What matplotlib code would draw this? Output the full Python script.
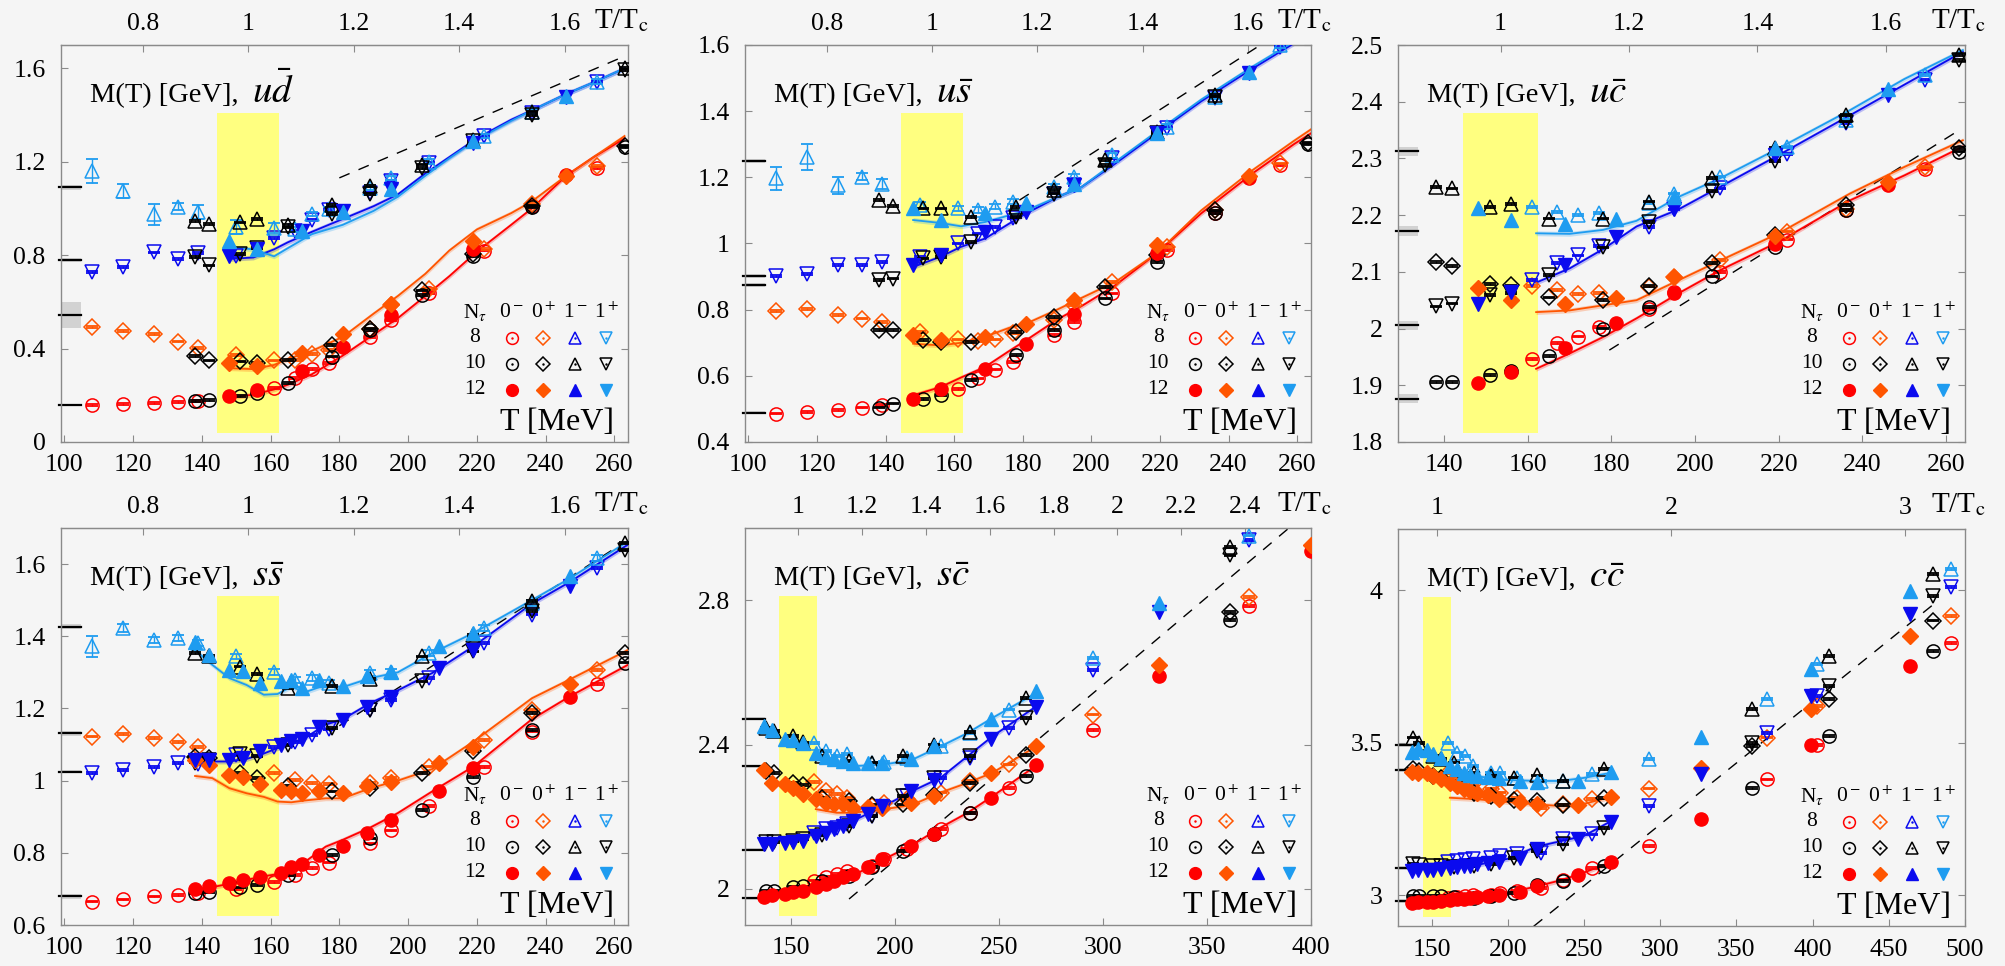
import numpy as np
import matplotlib
matplotlib.use("Agg")
import matplotlib.pyplot as plt

nan = np.nan
TC = 153.5  # MeV, for the top T/Tc axis

# colours: 0-, 0+, 1- (down triangles in data), 1+ (up triangles in data)
C_PS, C_SC, C_VE, C_AX = "#ff0000", "#ff5500", "#0a0aee", "#1e9cf0"

# ---------------- temperatures (MeV) ----------------
T8 = [108, 117, 126, 133, 139, 150, 161, 167, 172, 177, 189, 195, 206, 222, 236, 255]
T10 = [138, 142, 151, 156, 165, 178, 189, 204, 219, 236, 263]
T12 = [148, 156, 169, 181, 195, 219, 246]
SS_T12 = [138, 142, 148, 152, 157, 163, 166, 169, 174, 181, 188, 195, 209, 219, 247]
SC_T8 = [161, 167, 172, 177, 189, 195, 206, 222, 236, 255, 295, 370]
SC_T10 = [138, 142, 151, 156, 165, 178, 189, 204, 219, 236, 263, 361]
SC_T12 = [137, 141, 147, 151, 156, 162, 167, 171, 175, 180, 187, 194, 208, 219, 246, 268, 327, 400]
CC_T8 = [161, 167, 172, 177, 189, 195, 206, 222, 236, 255, 293, 370, 403, 491]
CC_T10 = [138, 142, 151, 156, 165, 178, 189, 204, 219, 236, 263, 360, 411, 479]
CC_T12 = [137, 141, 147, 151, 156, 162, 167, 171, 175, 180, 187, 194, 208, 219, 246, 268, 327, 399, 464]

# ---------------- u dbar ----------------
UD_PS8 = [0.160, 0.164, 0.167, 0.171, 0.175, nan, 0.231, 0.274, 0.312, 0.337, 0.451, 0.522, 0.638, 0.82, 1.01, 1.174]
UD_SC8 = [0.493, 0.475, 0.461, 0.43, 0.401, 0.373, 0.349, 0.352, 0.377, 0.394, 0.486, 0.586, 0.656, 0.827, 1.018, 1.181]
UD_AX8 = [1.16, 1.075, 0.976, 1.007, 0.987, 0.92, 0.916, 0.91, 0.976, 0.997, 1.089, 1.13, 1.2, 1.31, 1.415, 1.543]
UD_VE8 = [0.727, 0.749, 0.812, 0.784, 0.808, 0.798, 0.873, 0.905, 0.95, 0.993, 1.068, 1.117, 1.195, 1.309, 1.408, 1.543]
UD_AX8_ERR = [0.05, 0.03, 0.045, 0.015, 0.03, 0.03, 0.02, 0.01, 0.01, 0.01, 0.01, 0.01, 0.01, 0.01, 0.01, 0.01]
UD_PS10 = [0.174, 0.181, 0.196, 0.21, 0.252, 0.366, 0.479, 0.628, 0.798, 1.007, 1.262]
UD_SC10 = [0.369, 0.349, 0.345, 0.337, 0.352, 0.415, 0.486, 0.649, 0.805, 1.011, 1.266]
UD_VE10 = [0.791, 0.756, 0.805, 0.831, 0.919, 0.976, 1.061, 1.174, 1.288, 1.401, 1.593]
UD_AX10 = [0.947, 0.933, 0.94, 0.954, 0.93, 1.015, 1.096, 1.188, 1.295, 1.415, 1.6]
UD_PS12 = [0.196, 0.221, 0.302, 0.408, 0.543, 0.827, 1.143]
UD_SC12 = [0.34, 0.326, 0.383, 0.462, 0.59, 0.859, 1.14]
UD_VE12 = [0.798, 0.827, 0.905, 0.99, 1.082, 1.28, 1.479]
UD_AX12 = [0.862, 0.827, 0.905, 0.987, 1.082, 1.288, 1.482]
UD_LT = [148, 155, 161, 165, 172, 181, 190, 197, 205, 212, 220, 230, 236, 246, 254, 263]
UD_L_PS = [0.19, 0.203, 0.225, 0.245, 0.29, 0.37, 0.46, 0.53, 0.625, 0.71, 0.815, 0.93, 1.0, 1.14, 1.22, 1.30]
UD_L_SC = [0.316, 0.312, 0.33, 0.355, 0.39, 0.45, 0.55, 0.625, 0.72, 0.82, 0.91, 0.98, 1.03, 1.14, 1.22, 1.31]
UD_L_VE = [0.784, 0.79, 0.825, 0.855, 0.9, 0.955, 1.01, 1.06, 1.15, 1.22, 1.30, 1.38, 1.42, 1.49, 1.54, 1.60]
UD_L_AX = [0.834, 0.825, 0.795, 0.83, 0.89, 0.93, 0.99, 1.05, 1.14, 1.215, 1.295, 1.375, 1.42, 1.49, 1.54, 1.60]
UD_VAC = [0.16, 0.545, 0.78, 1.09]
UD_VAC_ERR = [0.004, 0.055, 0.01, 0.01]
UD_DASH = ([180, 263], [1.131, 1.652])

# ---------------- u sbar ----------------
US_PS8 = [0.486, 0.491, 0.496, 0.504, 0.511, nan, 0.561, 0.592, 0.619, 0.642, 0.723, 0.763, 0.849, 0.98, 1.093, 1.237]
US_SC8 = [0.795, 0.803, 0.783, 0.773, 0.763, 0.733, 0.71, 0.706, 0.71, 0.728, 0.768, 0.813, 0.884, 0.99, 1.1, 1.242]
US_AX8 = [1.197, 1.262, 1.176, 1.202, 1.181, 1.116, 1.106, 1.101, 1.111, 1.126, 1.171, 1.202, 1.267, 1.353, 1.444, 1.60]
US_VE8 = [0.901, 0.907, 0.934, 0.934, 0.945, 0.96, 1.0, 1.03, 1.05, 1.076, 1.151, 1.176, 1.257, 1.348, 1.439, 1.595]
US_AX8_ERR = [0.035, 0.04, 0.025, 0.01, 0.015, 0.01, 0.008, 0.008, 0.008, 0.008, 0.008, 0.008, 0.008, 0.008, 0.008, 0.008]
US_PS10 = [0.504, 0.516, 0.531, 0.541, 0.587, 0.662, 0.738, 0.834, 0.945, 1.093, 1.30]
US_SC10 = [0.738, 0.738, 0.708, 0.703, 0.703, 0.733, 0.778, 0.869, 0.965, 1.1, 1.303]
US_VE10 = [0.889, 0.894, 0.955, 0.96, 1.005, 1.081, 1.151, 1.237, 1.333, 1.444, nan]
US_AX10 = [1.131, 1.113, 1.106, 1.106, 1.081, 1.111, 1.161, 1.252, 1.338, 1.449, nan]
US_PS12 = [0.531, 0.561, 0.622, 0.697, 0.788, 0.97, 1.197]
US_SC12 = [0.723, 0.708, 0.718, 0.758, 0.829, 0.995, 1.205]
US_VE12 = [0.934, 0.965, 1.035, 1.096, 1.176, 1.333, 1.516]
US_AX12 = [1.106, 1.071, 1.091, 1.121, 1.181, 1.333, 1.519]
US_LT = [148, 156, 162, 169, 176, 181, 190, 197, 207, 219, 232, 247, 259, 264]
US_L_PS = [0.541, 0.566, 0.595, 0.627, 0.675, 0.708, 0.77, 0.81, 0.874, 0.97, 1.091, 1.212, 1.30, 1.333]
US_L_SC = [0.697, 0.692, 0.70, 0.718, 0.745, 0.758, 0.80, 0.835, 0.884, 0.97, 1.10, 1.222, 1.31, 1.345]
US_L_VE = [0.929, 0.96, 0.99, 1.015, 1.06, 1.091, 1.14, 1.17, 1.242, 1.333, 1.43, 1.529, 1.605, 1.64]
US_L_AX = [1.071, 1.062, 1.052, 1.065, 1.085, 1.10, 1.14, 1.17, 1.247, 1.338, 1.435, 1.535, 1.61, 1.645]
US_VAC = [0.489, 0.876, 0.902, 1.249]
US_VAC_ERR = [0.004, 0.006, 0.006, 0.006]
US_DASH = ([179, 250], [1.131, 1.605])

# ---------------- u cbar ----------------
UC_PS8 = [nan] * 6 + [1.947, 1.974, 1.986, 2.003, 2.035, 2.065, 2.1, 2.157, 2.209, 2.282]
UC_SC8 = [nan] * 6 + [2.075, 2.068, 2.061, 2.063, 2.074, 2.091, 2.121, 2.171, 2.21, 2.285]
UC_AX8 = [nan] * 6 + [2.215, 2.206, 2.2, 2.204, 2.221, 2.238, 2.268, 2.32, 2.368, 2.447]
UC_VE8 = [nan] * 6 + [2.086, 2.115, 2.129, 2.145, 2.179, 2.21, 2.247, 2.308, 2.362, 2.438]
UC_PS10 = [1.906, 1.906, 1.918, 1.925, 1.951, 2.0, 2.038, 2.092, 2.144, 2.209, 2.312]
UC_SC10 = [2.118, 2.11, 2.079, 2.076, 2.055, 2.05, 2.075, 2.115, 2.165, 2.218, 2.318]
UC_VE10 = [2.039, 2.044, 2.059, 2.063, 2.094, 2.143, 2.188, 2.243, 2.296, 2.365, 2.474]
UC_AX10 = [2.25, 2.247, 2.215, 2.219, 2.194, 2.194, 2.224, 2.265, 2.318, 2.376, 2.482]
UC_PS12 = [1.904, 1.924, 1.965, 2.01, 2.063, 2.15, 2.254]
UC_SC12 = [2.071, 2.05, 2.044, 2.054, 2.091, 2.163, 2.259]
UC_VE12 = [2.043, 2.065, 2.112, 2.162, 2.21, 2.306, 2.412]
UC_AX12 = [2.212, 2.191, 2.185, 2.194, 2.232, 2.318, 2.422]
UC_LT = [162, 170, 178, 186, 196, 206, 220, 237, 250, 264]
UC_L_PS = [1.929, 1.956, 1.985, 2.018, 2.062, 2.103, 2.153, 2.226, 2.27, 2.321]
UC_L_SC = [2.029, 2.032, 2.041, 2.05, 2.085, 2.12, 2.168, 2.238, 2.285, 2.332]
UC_L_VE = [2.081, 2.106, 2.14, 2.18, 2.21, 2.25, 2.306, 2.376, 2.43, 2.488]
UC_L_AX = [2.168, 2.167, 2.174, 2.19, 2.232, 2.265, 2.318, 2.385, 2.44, 2.491]
UC_VAC = [1.876, 2.006, 2.172, 2.313]
UC_VAC_ERR = [0.008, 0.008, 0.008, 0.008]
UC_DASH = ([179.5, 262.5], [1.962, 2.347])

# ---------------- s sbar ----------------
SS_PS8 = [0.665, 0.671, 0.679, 0.683, 0.688, 0.699, 0.72, 0.739, 0.757, 0.773, 0.826, 0.862, 0.93, 1.037, 1.136, 1.268]
SS_SC8 = [1.122, 1.13, 1.118, 1.108, 1.094, nan, 1.022, 1.002, 0.993, 0.991, 0.993, 1.007, 1.039, 1.113, 1.196, 1.307]
SS_AX8 = [1.372, 1.423, 1.39, 1.395, 1.381, 1.344, 1.302, 1.279, 1.284, 1.27, 1.298, 1.302, 1.353, 1.423, 1.492, 1.617]
SS_VE8 = [1.021, 1.03, 1.037, 1.048, 1.046, 1.071, 1.094, 1.108, 1.127, 1.142, 1.196, 1.224, 1.284, 1.381, 1.46, 1.589]
SS_AX8_ERR = [0.03, 0.01, 0.008, 0.008, 0.008, 0.008, 0.008, 0.008, 0.008, 0.008, 0.008, 0.008, 0.008, 0.008, 0.008, 0.008]
SS_PS10 = [0.688, 0.692, 0.704, 0.711, 0.739, 0.794, 0.84, 0.919, 1.011, 1.141, 1.327]
SS_SC10 = [1.065, 1.062, 1.021, 1.007, 0.985, 0.97, 0.979, 1.022, 1.081, 1.187, 1.353]
SS_VE10 = [1.05, 1.057, 1.074, 1.069, 1.099, 1.145, 1.196, 1.275, 1.358, 1.469, 1.64]
SS_AX10 = [1.353, 1.346, 1.316, 1.296, 1.256, 1.263, 1.281, 1.344, 1.404, 1.497, 1.658]
SS_PS12 = [0.699, 0.708, 0.717, 0.725, 0.734, 0.743, 0.76, 0.769, 0.794, 0.819, 0.854, 0.891, 0.97, 1.034, 1.233]
SS_SC12 = [1.057, 1.044, 1.016, 1.011, 0.991, 0.974, 0.97, 0.965, 0.97, 0.965, 0.984, 0.997, 1.048, 1.094, 1.268]
SS_VE12 = [1.057, 1.056, 1.056, 1.062, 1.081, 1.099, 1.111, 1.115, 1.148, 1.167, 1.205, 1.233, 1.312, 1.362, 1.538]
SS_AX12 = [1.383, 1.349, 1.307, 1.305, 1.27, 1.275, 1.279, 1.256, 1.279, 1.261, 1.289, 1.302, 1.372, 1.409, 1.566]
SS_LT = [138, 143, 148, 153, 158, 162, 166, 170, 176, 181, 189, 197, 207, 219, 236, 247, 264]
SS_L_PS = [0.697, 0.705, 0.714, 0.725, 0.735, 0.741, 0.752, 0.775, 0.817, 0.836, 0.87, 0.91, 0.97, 1.039, 1.17, 1.233, 1.321]
SS_L_SC = [1.013, 1.007, 0.979, 0.965, 0.955, 0.942, 0.94, 0.945, 0.951, 0.951, 0.979, 1.0, 1.032, 1.108, 1.228, 1.28, 1.362]
SS_L_VE = [1.053, 1.053, 1.053, 1.06, 1.075, 1.09, 1.105, 1.118, 1.155, 1.17, 1.215, 1.25, 1.298, 1.372, 1.49, 1.55, 1.654]
SS_L_AX = [1.362, 1.321, 1.284, 1.265, 1.238, 1.24, 1.26, 1.245, 1.265, 1.259, 1.284, 1.30, 1.353, 1.409, 1.50, 1.56, 1.663]
SS_VAC = [0.679, 1.025, 1.131, 1.427]
SS_VAC_ERR = [0.007, 0.004, 0.007, 0.007]
SS_DASH = ([180, 262.5], [1.152, 1.658])

# ---------------- s cbar ----------------
SC_PS8 = [2.023, 2.032, 2.041, 2.051, 2.064, 2.083, 2.11, 2.166, 2.211, 2.28, 2.441, 2.783]
SC_SC8 = [2.296, 2.271, 2.262, 2.253, 2.23, 2.239, 2.248, 2.267, 2.299, 2.345, 2.483, 2.809]
SC_AX8 = [2.405, 2.382, 2.368, 2.373, 2.35, 2.351, 2.363, 2.395, 2.432, 2.497, 2.639, 2.979]
SC_VE8 = [2.156, 2.166, 2.17, 2.179, 2.202, 2.225, 2.257, 2.308, 2.363, 2.446, 2.607, 2.966]
SC_PS10 = [1.995, 1.995, 2.005, 2.007, 2.023, 2.037, 2.06, 2.106, 2.152, 2.211, 2.313, 2.745]
SC_SC10 = [2.326, 2.322, 2.294, 2.287, 2.253, 2.244, 2.232, 2.234, 2.259, 2.294, 2.372, 2.768]
SC_VE10 = [2.131, 2.131, 2.133, 2.138, 2.149, 2.175, 2.202, 2.257, 2.308, 2.368, 2.474, 2.924]
SC_AX10 = [2.446, 2.437, 2.423, 2.406, 2.368, 2.354, 2.35, 2.368, 2.4, 2.434, 2.529, 2.947]
SC_PS12 = [1.977, 1.982, 1.986, 1.991, 1.995, 2.005, 2.014, 2.023, 2.032, 2.041, 2.06, 2.083, 2.12, 2.152, 2.253, 2.342, 2.589, 2.936]
SC_SC12 = [2.329, 2.294, 2.29, 2.28, 2.262, 2.248, 2.239, 2.234, 2.234, 2.223, 2.228, 2.225, 2.237, 2.257, 2.322, 2.395, 2.621, 2.954]
SC_VE12 = [2.124, 2.124, 2.127, 2.129, 2.133, 2.147, 2.156, 2.166, 2.175, 2.189, 2.207, 2.23, 2.271, 2.303, 2.416, 2.504, 2.768, nan]
SC_AX12 = [2.452, 2.44, 2.416, 2.412, 2.405, 2.377, 2.366, 2.36, 2.354, 2.348, 2.35, 2.35, 2.359, 2.395, 2.471, 2.547, 2.793, nan]
SC_LT = [162, 172, 180, 195, 208, 222, 235, 247, 268]
SC_L_PS = [2.005, 2.02, 2.037, 2.083, 2.12, 2.17, 2.211, 2.257, 2.342]
SC_L_SC = [2.221, 2.211, 2.211, 2.221, 2.232, 2.267, 2.294, 2.322, 2.395]
SC_L_VE = [2.143, 2.165, 2.189, 2.23, 2.27, 2.308, 2.368, 2.423, 2.506]
SC_L_AX = [2.359, 2.345, 2.34, 2.345, 2.357, 2.395, 2.432, 2.474, 2.543]
SC_VAC = [1.974, 2.108, 2.340, 2.471]
SC_VAC_ERR = [0.004, 0.004, 0.004, 0.004]
SC_DASH = ([178, 389], [1.972, 2.998])

# ---------------- c cbar ----------------
CC_PS8 = [2.992, 2.995, 2.997, 3.0, 3.003, 3.009, 3.014, 3.025, 3.052, 3.091, 3.162, 3.38, 3.492, 3.826]
CC_SC8 = [3.40, 3.386, 3.375, 3.364, 3.348, 3.337, 3.32, 3.287, 3.298, 3.315, 3.35, 3.517, 3.621, 3.916]
CC_AX8 = [3.50, 3.468, 3.457, 3.424, 3.402, 3.402, 3.386, 3.375, 3.375, 3.397, 3.446, 3.643, 3.757, 4.069]
CC_VE8 = [3.109, 3.112, 3.115, 3.118, 3.124, 3.129, 3.135, 3.14, 3.184, 3.2, 3.293, 3.533, 3.654, 4.009]
CC_PS10 = [2.998, 2.998, 2.998, 2.998, 2.996, 2.993, 2.998, 3.009, 3.033, 3.047, 3.096, 3.353, 3.522, 3.801]
CC_SC10 = [3.413, 3.408, 3.391, 3.386, 3.375, 3.337, 3.326, 3.313, 3.309, 3.295, 3.32, 3.49, 3.643, 3.9]
CC_VE10 = [3.102, 3.099, 3.096, 3.096, 3.094, 3.096, 3.102, 3.123, 3.145, 3.167, 3.222, 3.5, 3.686, 3.981]
CC_AX10 = [3.517, 3.5, 3.457, 3.446, 3.435, 3.402, 3.391, 3.386, 3.393, 3.375, 3.413, 3.61, 3.785, 4.052]
CC_PS12 = [2.976, 2.978, 2.979, 2.98, 2.981, 2.985, 2.987, 2.989, 2.992, 2.996, 2.998, 3.003, 3.011, 3.031, 3.066, 3.109, 3.251, 3.492, 3.75]
CC_SC12 = [3.404, 3.402, 3.40, 3.391, 3.38, 3.367, 3.358, 3.35, 3.342, 3.337, 3.328, 3.317, 3.306, 3.298, 3.295, 3.323, 3.419, 3.61, 3.85]
CC_VE12 = [3.08, 3.083, 3.085, 3.085, 3.087, 3.091, 3.094, 3.096, 3.098, 3.102, 3.107, 3.109, 3.123, 3.153, 3.186, 3.24, 3.397, 3.654, 3.921]
CC_AX12 = [3.47, 3.479, 3.477, 3.462, 3.451, 3.424, 3.413, 3.402, 3.393, 3.391, 3.389, 3.386, 3.375, 3.372, 3.375, 3.404, 3.52, 3.741, 3.998]
CC_LT = [162, 180, 200, 219, 235, 250, 268]
CC_L_PS = [2.985, 2.995, 3.008, 3.03, 3.05, 3.075, 3.109]
CC_L_SC = [3.32, 3.315, 3.306, 3.298, 3.293, 3.30, 3.323]
CC_L_VE = [3.096, 3.10, 3.12, 3.16, 3.178, 3.195, 3.244]
CC_L_AX = [3.402, 3.39, 3.378, 3.375, 3.375, 3.385, 3.402]
CC_VAC = [2.981, 3.091, 3.411, 3.493]
CC_VAC_ERR = [0.006, 0.006, 0.006, 0.006]
CC_DASH = ([217, 481], [2.899, 3.96])

# ---------------- axes settings ----------------
XLIMS = [(99, 264), (99, 264), (129, 264.5), (99, 264), (128, 400), (128, 500)]
YLIMS = [(0, 1.70), (0.4, 1.6), (1.8, 2.5), (0.6, 1.70), (1.9, 3.0), (2.9, 4.2)]
XTICKS = [range(100, 261, 20), range(100, 261, 20), range(140, 261, 20),
          range(100, 261, 20), range(150, 401, 50), range(150, 501, 50)]
YTICKS = [[0, 0.4, 0.8, 1.2, 1.6], [0.4, 0.6, 0.8, 1, 1.2, 1.4, 1.6],
          [1.8, 1.9, 2, 2.1, 2.2, 2.3, 2.4, 2.5], [0.6, 0.8, 1, 1.2, 1.4, 1.6],
          [2, 2.4, 2.8], [3, 3.5, 4]]
TOPTICKS = [[0.8, 1, 1.2, 1.4, 1.6], [0.8, 1, 1.2, 1.4, 1.6], [1, 1.2, 1.4, 1.6],
            [0.8, 1, 1.2, 1.4, 1.6], [1, 1.2, 1.4, 1.6, 1.8, 2, 2.2, 2.4], [1, 2, 3]]
LABELS = [r"$u\bar{d}$", r"$u\bar{s}$", r"$u\bar{c}$", r"$s\bar{s}$", r"$s\bar{c}$", r"$c\bar{c}$"]

plt.rcParams["font.family"] = ["Liberation Serif", "DejaVu Serif"]
plt.rcParams["mathtext.fontset"] = "stix"

BG = "#f5f5f5"
SPINE = "#8a8a8a"
FS_TICK = 18.5
W, H = 2005, 966
fig = plt.figure(figsize=(W / 100, H / 100), dpi=100, facecolor=BG)

BOXES = [(61, 45, 567), (745, 45, 566), (1398, 45, 567),
         (61, 528, 567), (745, 528, 566), (1398, 529, 567)]
BOX_H = 397

panels = [
    dict(t8=T8, t10=T10, t12=T12,
         d8=(UD_PS8, UD_SC8, UD_VE8, UD_AX8), e8=UD_AX8_ERR,
         d10=(UD_PS10, UD_SC10, UD_VE10, UD_AX10), d12=(UD_PS12, UD_SC12, UD_VE12, UD_AX12),
         lt=UD_LT, lines=(UD_L_PS, UD_L_SC, UD_L_VE, UD_L_AX), vac=UD_VAC, vac_e=UD_VAC_ERR, dash=UD_DASH),
    dict(t8=T8, t10=T10, t12=T12,
         d8=(US_PS8, US_SC8, US_VE8, US_AX8), e8=US_AX8_ERR,
         d10=(US_PS10, US_SC10, US_VE10, US_AX10), d12=(US_PS12, US_SC12, US_VE12, US_AX12),
         lt=US_LT, lines=(US_L_PS, US_L_SC, US_L_VE, US_L_AX), vac=US_VAC, vac_e=US_VAC_ERR, dash=US_DASH),
    dict(t8=T8, t10=T10, t12=T12,
         d8=(UC_PS8, UC_SC8, UC_VE8, UC_AX8), e8=None,
         d10=(UC_PS10, UC_SC10, UC_VE10, UC_AX10), d12=(UC_PS12, UC_SC12, UC_VE12, UC_AX12),
         lt=UC_LT, lines=(UC_L_PS, UC_L_SC, UC_L_VE, UC_L_AX), vac=UC_VAC, vac_e=UC_VAC_ERR, dash=UC_DASH),
    dict(t8=T8, t10=T10, t12=SS_T12,
         d8=(SS_PS8, SS_SC8, SS_VE8, SS_AX8), e8=SS_AX8_ERR,
         d10=(SS_PS10, SS_SC10, SS_VE10, SS_AX10), d12=(SS_PS12, SS_SC12, SS_VE12, SS_AX12),
         lt=SS_LT, lines=(SS_L_PS, SS_L_SC, SS_L_VE, SS_L_AX), vac=SS_VAC, vac_e=SS_VAC_ERR, dash=SS_DASH),
    dict(t8=SC_T8, t10=SC_T10, t12=SC_T12,
         d8=(SC_PS8, SC_SC8, SC_VE8, SC_AX8), e8=None,
         d10=(SC_PS10, SC_SC10, SC_VE10, SC_AX10), d12=(SC_PS12, SC_SC12, SC_VE12, SC_AX12),
         lt=SC_LT, lines=(SC_L_PS, SC_L_SC, SC_L_VE, SC_L_AX), vac=SC_VAC, vac_e=SC_VAC_ERR, dash=SC_DASH),
    dict(t8=CC_T8, t10=CC_T10, t12=CC_T12,
         d8=(CC_PS8, CC_SC8, CC_VE8, CC_AX8), e8=None,
         d10=(CC_PS10, CC_SC10, CC_VE10, CC_AX10), d12=(CC_PS12, CC_SC12, CC_VE12, CC_AX12),
         lt=CC_LT, lines=(CC_L_PS, CC_L_SC, CC_L_VE, CC_L_AX), vac=CC_VAC, vac_e=CC_VAC_ERR, dash=CC_DASH),
]

COLORS = (C_PS, C_SC, C_VE, C_AX)
MARKERS = ("o", "D", "v", "^")
MSIZE = (9.5, 7.8, 9.5, 9.5)


def open_set(ax, T, vals, marker, ms, err, edge):
    T = np.asarray(T, float); v = np.asarray(vals, float)
    e = np.where(np.isnan(np.asarray(err, float)), 0, err)
    ax.errorbar(T, v, yerr=e, fmt="none", ecolor=edge, elinewidth=1.0,
                capsize=4.6, capthick=1.3, zorder=4)
    ax.plot(T, v, ls="none", marker=marker, ms=ms, mfc="none", mec=edge, mew=1.1, zorder=4)


def legend_block(ax):
    xs = [0.795, 0.85, 0.907, 0.962]
    ys = [0.262, 0.197, 0.131]
    tr = ax.transAxes
    kw = dict(transform=tr, ha="center", va="center", fontsize=15.5)
    ax.text(0.73, 0.325, r"N$_\tau$", **kw)
    for x, h in zip(xs, [r"0$^-$", r"0$^+$", r"1$^-$", r"1$^+$"]):
        ax.text(x, 0.325, h, **kw)
    for y, n in zip(ys, ["8", "10", "12"]):
        ax.text(0.73, y, n, **kw)
    lmark = ("o", "D", "^", "v")
    lcol = (C_PS, C_SC, C_VE, C_AX)
    lms = (8.5, 7.2, 8.5, 8.5)
    for x, m, c, s in zip(xs, lmark, lcol, lms):
        ax.plot([x], [ys[0]], marker=m, ms=s, mfc="none", mec=c, mew=1.1, transform=tr, zorder=6)
        ax.plot([x], [ys[0]], marker=".", ms=1.5, color=c, transform=tr, zorder=6)
        ax.plot([x], [ys[1]], marker=m, ms=s, mfc="none", mec="k", mew=1.1, transform=tr, zorder=6)
        ax.plot([x], [ys[1]], marker=".", ms=1.5, color="k", transform=tr, zorder=6)
        ax.plot([x], [ys[2]], marker=m, ms=s, mfc=c, mec=c, transform=tr, zorder=6)
    ax.text(0.976, 0.05, "T [MeV]", transform=tr, ha="right", va="center", fontsize=23)


for i, p in enumerate(panels):
    l, t, w = BOXES[i]
    ax = fig.add_axes([l / W, 1 - (t + BOX_H) / H, w / W, BOX_H / H])
    ax.set_facecolor(BG)
    ax.set_xlim(*XLIMS[i]); ax.set_ylim(*YLIMS[i])
    span = YLIMS[i][1] - YLIMS[i][0]

    ax.axvspan(144.5, 162.5, ymin=0.022, ymax=0.829, color="#ffff80", lw=0, zorder=0.5)

    # vacuum masses at the left edge
    ytr = ax.get_yaxis_transform()
    for v, e in zip(p["vac"], p["vac_e"]):
        ax.add_patch(plt.Rectangle((0, v - e), 0.035, 2 * e, transform=ytr, color="#d2d2d2",
                                   lw=0, zorder=1, clip_on=False))
        ax.plot([-0.004, 0.035], [v, v], transform=ytr, color="k", lw=1.6, zorder=2, clip_on=False)

    ax.plot(p["dash"][0], p["dash"][1], color="k", lw=1.0, dashes=(8, 7), zorder=2)

    # lattice fit curves with thin bands
    lt = np.asarray(p["lt"], float)
    for vals, c in zip(p["lines"], COLORS):
        v = np.asarray(vals, float)
        hw = 0.006 * span
        ax.fill_between(lt, v - hw, v + hw, color=c, alpha=0.25, lw=0, zorder=2)
        ax.plot(lt, v, color=c, lw=1.3, zorder=3)

    base = 0.0022 * span
    for k in range(4):
        err8 = p["e8"] if (k == 3 and p["e8"] is not None) else [base] * len(p["t8"])
        open_set(ax, p["t8"], p["d8"][k], MARKERS[k], MSIZE[k], err8, COLORS[k])
    for k in range(4):
        open_set(ax, p["t10"], p["d10"][k], MARKERS[k], MSIZE[k], [base] * len(p["t10"]), "k")
    for k in range(4):
        ax.plot(p["t12"], p["d12"][k], ls="none", marker=MARKERS[k], ms=MSIZE[k],
                mfc=COLORS[k], mec=COLORS[k], zorder=5)

    ax.set_xticks(list(XTICKS[i]))
    ax.set_yticks(YTICKS[i])
    ax.set_yticklabels([f"{y:g}" for y in YTICKS[i]])
    ax.tick_params(axis="both", direction="in", length=5, width=0.8, color=SPINE,
                   labelsize=FS_TICK, top=False, right=True)
    ax.tick_params(axis="x", pad=9)
    ax.tick_params(axis="y", pad=11)
    for s in ax.spines.values():
        s.set_color(SPINE); s.set_linewidth(1.0)

    sec = ax.secondary_xaxis("top", functions=(lambda x: x / TC, lambda r: r * TC))
    sec.set_xticks(TOPTICKS[i])
    sec.set_xticklabels([f"{r:g}" for r in TOPTICKS[i]])
    sec.tick_params(direction="in", length=5, width=0.8, color=SPINE, labelsize=FS_TICK, pad=7)
    sec.spines["top"].set_color(SPINE)
    ax.text(0.94, 1.062, r"T/T$_\mathrm{c}$", transform=ax.transAxes, ha="left",
            va="center", fontsize=21)

    ax.text(0.051, 0.855, "M(T) [GeV],", transform=ax.transAxes, ha="left",
            va="baseline", fontsize=20.5, zorder=7)
    ax.text(0.337, 0.855, LABELS[i], transform=ax.transAxes, ha="left",
            va="baseline", fontsize=28, zorder=7)
    legend_block(ax)

fig.savefig("out.png", dpi=100, facecolor=BG)
